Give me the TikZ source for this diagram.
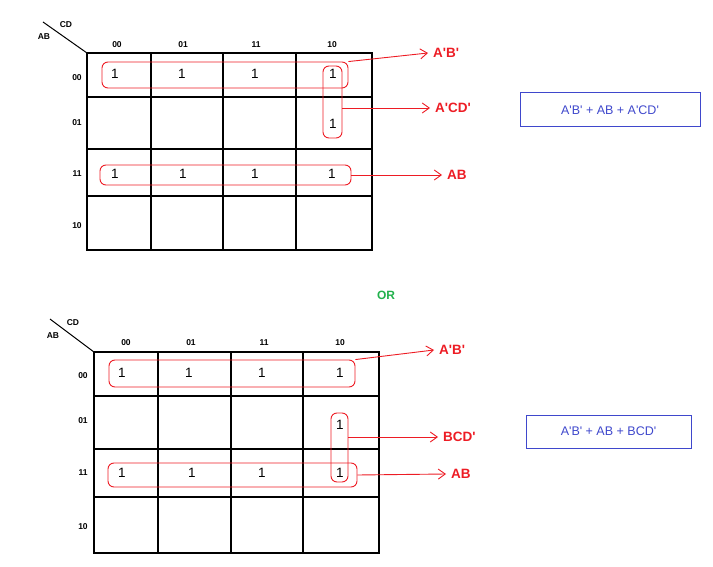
\documentclass[tikz,border=0pt]{standalone}
\usepackage{fontspec}
\setmainfont{Liberation Sans}[Ligatures=TeXOff]
\usetikzlibrary{arrows.meta, positioning, calc}
\definecolor{kred}{RGB}{237,28,36}
\definecolor{kblue}{RGB}{63,72,204}
\definecolor{kgreen}{RGB}{34,177,76}

\begin{document}
\begin{tikzpicture}[x=1pt, y=-1pt, >={Straight Barb[length=7pt, width=10pt]},
    grid/.style={line width=1.4pt},
    hdr/.style={font=\fontsize{8.5}{8.5}\selectfont\bfseries, inner sep=0pt},
    one/.style={font=\fontsize{13.5}{13.5}\selectfont, inner sep=0pt},
    grp/.style={draw=kred, line width=0.9pt, rounded corners=6pt, inner sep=0pt},
    term/.style={text=kred, font=\fontsize{13.5}{13.5}\selectfont\bfseries,
                 inner xsep=5pt, inner ysep=1pt, anchor=west},
    conn/.style={->, draw=kred, line width=0.9pt},
    res/.style={draw=kblue, line width=1pt, text=kblue,
                font=\fontsize{12.5}{12.5}\selectfont}]
  \useasboundingbox (0,0) rectangle (713,567);

  % first map
  \draw[grid] (87,53) rectangle (372,250);
  \foreach \x in {151,223,296} \draw[grid] (\x,53) -- (\x,250);
  \foreach \y in {97,149,196} \draw[grid] (87,\y) -- (372,\y);
  \draw[line width=1pt] (43,22) -- (87,53);
  \node[hdr] (cdA) at (66,25) {CD};
  \node[hdr] (abA) at (44,37) {AB};
  \foreach \x/\t [count=\i] in {117/00,183/01,256/11,332/10}
    \node[hdr] (colA\i) at (\x,45) {\t};
  \foreach \y/\t [count=\i] in {78/00,123/01,174/11,226/10}
    \node[hdr] (rowA\i) at (77,\y) {\t};
  \foreach \x/\y [count=\i] in {115/74,182/74,255/74,333/74,333/124,
                               115/174,183/174,255/174,332/174}
    \node[one] (oneA\i) at (\x,\y) {1};

  \node[grp, minimum width=246pt, minimum height=26pt] (grpA1) at (225,75) {};
  \node[grp, minimum width=19pt, minimum height=72pt] (grpA2) at (332.5,102) {};
  \node[grp, minimum width=251pt, minimum height=20pt] (grpA3) at (225.5,175) {};

  \node[term] (termA1) at (428,53) {A'B'};
  \node[term] (termA2) at (430,108) {A'CD'};
  \node[term] (termA3) at (442,175) {AB};
  \draw[conn] (grpA1.north east) -- (termA1.west);
  \draw[conn] (grpA2.east |- termA2.west) -- (termA2.west);
  \draw[conn] (grpA3.east) -- (termA3.west);

  \node[res, minimum width=180pt, minimum height=34pt] (resA) at (610,110)
    {A'B' + AB + A'CD'};

  \node[text=kgreen, font=\fontsize{12}{12}\selectfont\bfseries] (or) at (386,295) {OR};

  % second map
  \draw[grid] (94,352) rectangle (379,553);
  \foreach \x in {158,231,303} \draw[grid] (\x,352) -- (\x,553);
  \foreach \y in {396,449,497} \draw[grid] (94,\y) -- (379,\y);
  \draw[line width=1pt] (50,319) -- (94,352);
  \node[hdr] (cdB) at (73,323) {CD};
  \node[hdr] (abB) at (53,336) {AB};
  \foreach \x/\t [count=\i] in {126/00,191/01,264/11,340/10}
    \node[hdr] (colB\i) at (\x,343) {\t};
  \foreach \y/\t [count=\i] in {376/00,421/01,473/11,527/10}
    \node[hdr] (rowB\i) at (83,\y) {\t};
  \foreach \x/\y [count=\i] in {122/373,189/373,262/373,340/373,340/425,
                               122/473,192/473,262/473,340/473}
    \node[one] (oneB\i) at (\x,\y) {1};

  \node[grp, minimum width=246pt, minimum height=27pt] (grpB1) at (232,373.5) {};
  \node[grp, minimum width=17pt, minimum height=69pt] (grpB2) at (339.5,447.5) {};
  \node[grp, minimum width=249pt, minimum height=24pt] (grpB3) at (232.5,475) {};

  \node[term] (termB1) at (434,350) {A'B'};
  \node[term] (termB2) at (438,437) {BCD'};
  \node[term] (termB3) at (446,474) {AB};
  \draw[conn] (grpB1.north east) -- (termB1.west);
  \draw[conn] (grpB2.east |- termB2.west) -- (termB2.west);
  \draw[conn] (grpB3.east) -- (termB3.west);

  \node[res, minimum width=165pt, minimum height=33pt] (resB) at (608.5,431.5)
    {A'B' + AB + BCD'};
\end{tikzpicture}
\end{document}
